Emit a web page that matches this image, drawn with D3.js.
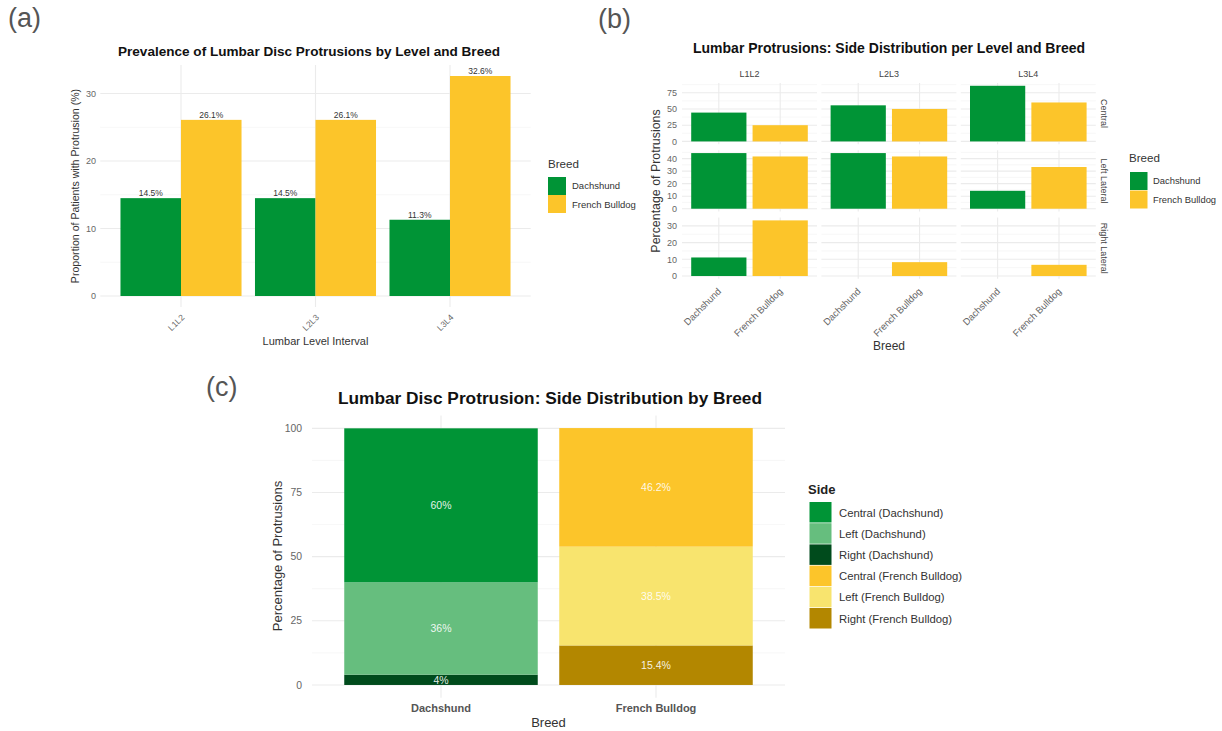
<!DOCTYPE html>
<html>
<head>
<meta charset="utf-8">
<script src="https://cdn.jsdelivr.net/npm/d3@7.9.0/dist/d3.min.js"></script>
<style>
  body { margin: 0; background: #fff; }
  svg { display: block; font-family: "Liberation Sans", Arial, sans-serif; }
</style>
</head>
<body>
<svg id="chart" width="1222" height="731"></svg>
<script>
// ---- data ----
const levels = ["L1L2", "L2L3", "L3L4"];
const breeds = ["Dachshund", "French Bulldog"];

// (a) prevalence per level
const prevalenceDachshund = [14.5, 14.5, 11.3];
const prevalenceFrench = [26.1, 26.1, 32.6];
const prevalenceTicks = [0, 10, 20, 30];

// (b) side distribution per level (percent of protrusions)
const sideRows = ["Central", "Left Lateral", "Right Lateral"];
const centralDachshund = [44.4, 55.6, 85.7];
const centralFrench = [25, 50, 60];
const leftDachshund = [44.4, 44.4, 14.3];
const leftFrench = [41.7, 41.7, 33.3];
const rightDachshund = [11.1, 0, 0];
const rightFrench = [33.3, 8.3, 6.7];
const centralTicks = [0, 25, 50, 75];
const leftTicks = [0, 10, 20, 30, 40];
const rightTicks = [0, 10, 20, 30];

// (c) overall side shares per breed
const sides = ["Central", "Left", "Right"];
const dachshundShares = [60, 36, 4];
const frenchShares = [46.2, 38.5, 15.4];
const shareTicks = [0, 25, 50, 75, 100];

// ---- colours ----
const breedColors = ["#009436", "#FCC52A"];
const sideColorsDachshund = ["#009436", "#66BE7E", "#004B1C"];
const sideColorsFrench = ["#FCC52A", "#F8E46E", "#B38700"];

const svg = d3.select("#chart");
const gridMajor = "#EBEBEB";
const gridMinor = "#F4F4F4";
const tickColor = "#666";

// minor breaks halfway between majors, kept inside the domain
function minorBreaks(ticks, domain) {
  let out = [];
  let step = ticks[1] - ticks[0];
  ticks.forEach((t) => out.push(t + step / 2));
  return out.filter((m) => m > domain[0] && m < domain[1] && !ticks.includes(m));
}

function drawGrid(g, x0, x1, y, ticks, centers) {
  minorBreaks(ticks, y.domain()).forEach((m) => {
    g.append("line").attr("x1", x0).attr("x2", x1)
      .attr("y1", y(m)).attr("y2", y(m))
      .attr("stroke", gridMinor).attr("stroke-width", 0.7);
  });
  ticks.forEach((t) => {
    g.append("line").attr("x1", x0).attr("x2", x1)
      .attr("y1", y(t)).attr("y2", y(t))
      .attr("stroke", gridMajor).attr("stroke-width", 1.1);
  });
  let [yb, yt] = y.range();
  centers.forEach((c) => {
    g.append("line").attr("x1", c).attr("x2", c)
      .attr("y1", yb).attr("y2", yt)
      .attr("stroke", gridMajor).attr("stroke-width", 1.1);
  });
}

function text(g, str, x, y, opts = {}) {
  let t = g.append("text").attr("x", x).attr("y", y).text(str)
    .attr("font-size", opts.size || 10)
    .attr("fill", opts.fill || "#222")
    .attr("text-anchor", opts.anchor || "start");
  if (opts.weight) t.attr("font-weight", opts.weight);
  if (opts.transform) t.attr("transform", opts.transform);
  if (opts.length) t.attr("textLength", opts.length).attr("lengthAdjust", "spacingAndGlyphs");
  return t;
}

// panel letters
text(svg, "(a)", 8, 27, { size: 27, fill: "#555" });
text(svg, "(b)", 598, 28, { size: 27, fill: "#555" });
text(svg, "(c)", 206, 396, { size: 27, fill: "#555" });

// ================= (a) =================
{
  const g = svg.append("g");
  const prevMax = d3.max(prevalenceFrench.concat(prevalenceDachshund));
  const x = d3.scaleBand().domain(levels).range([100.3, 530.7])
    .paddingInner(0.1).paddingOuter(0.15);
  const xIn = d3.scaleBand().domain(breeds).range([0, x.bandwidth()]);
  const y = d3.scaleLinear().domain([-0.05 * prevMax, 1.05 * prevMax]).range([307, 65]);

  drawGrid(g, 100.3, 530.7, y, prevalenceTicks, levels.map((l) => x(l) + x.bandwidth() / 2));

  const rows = levels.map((l, i) => ({ level: l, values: [prevalenceDachshund[i], prevalenceFrench[i]] }));
  rows.forEach((r) => {
    r.values.forEach((v, j) => {
      let bx = x(r.level) + xIn(breeds[j]);
      g.append("rect").attr("x", bx).attr("width", xIn.bandwidth())
        .attr("y", y(v)).attr("height", y(0) - y(v))
        .attr("fill", breedColors[j]);
      text(g, v.toFixed(1) + "%", bx + xIn.bandwidth() / 2, y(v) - 2,
        { size: 8.5, fill: "#333", anchor: "middle" });
    });
  });

  prevalenceTicks.forEach((t) => {
    text(g, t, 96, y(t) + 3, { size: 9, fill: tickColor, anchor: "end" });
  });
  levels.forEach((l) => {
    let cx = x(l) + x.bandwidth() / 2;
    text(g, l, 0, 0, { size: 8.5, fill: tickColor, anchor: "end",
      transform: `translate(${cx + 4},${318}) rotate(-45)` });
  });

  text(g, "Prevalence of Lumbar Disc Protrusions by Level and Breed", 309, 56,
    { size: 13.5, weight: "bold", fill: "#111", anchor: "middle", length: 382 });
  text(g, "Proportion of Patients with Protrusion (%)", 0, 0,
    { size: 10.6, fill: "#333", anchor: "middle", transform: "translate(79,186) rotate(-90)" });
  text(g, "Lumbar Level Interval", 315.5, 345, { size: 11, fill: "#333", anchor: "middle" });

  // legend
  text(g, "Breed", 548, 168, { size: 11.6, fill: "#333" });
  breeds.forEach((b, i) => {
    g.append("rect").attr("x", 548).attr("y", 177 + i * 18).attr("width", 18).attr("height", 18)
      .attr("fill", breedColors[i]);
    text(g, b, 572, 189 + i * 18.5, { size: 9.5, fill: "#333" });
  });
}

// ================= (b) =================
{
  const g = svg.append("g");
  const colX = [682, 821.4, 960.8];
  const colW = 135;
  const rowTop = [83, 150.3, 217.6];
  const rowH = 61.2;
  const rowData = [
    [centralDachshund, centralFrench],
    [leftDachshund, leftFrench],
    [rightDachshund, rightFrench],
  ];
  const rowTicks = [centralTicks, leftTicks, rightTicks];

  rowData.forEach((pair, r) => {
    let rMax = d3.max(pair[0].concat(pair[1]));
    let y = d3.scaleLinear().domain([-0.05 * rMax, 1.05 * rMax]).range([rowTop[r] + rowH, rowTop[r]]);

    levels.forEach((lvl, c) => {
      let x = d3.scaleBand().domain(breeds).range([colX[c], colX[c] + colW])
        .paddingInner(0.1).paddingOuter(0.15);
      drawGrid(g, colX[c], colX[c] + colW, y, rowTicks[r], breeds.map((b) => x(b) + x.bandwidth() / 2));
      breeds.forEach((b, j) => {
        let v = pair[j][c];
        if (v <= 0) return;
        g.append("rect").attr("x", x(b)).attr("width", x.bandwidth())
          .attr("y", y(v)).attr("height", y(0) - y(v))
          .attr("fill", breedColors[j]);
      });
      // x tick labels under the bottom row
      if (r === rowData.length - 1) {
        breeds.forEach((b) => {
          let cx = x(b) + x.bandwidth() / 2;
          text(g, b, 0, 0, { size: 9.5, fill: tickColor, anchor: "end",
            transform: `translate(${cx + 3},${292}) rotate(-45)` });
        });
      }
    });

    rowTicks[r].forEach((t) => {
      text(g, t, 677, y(t) + 3.2, { size: 9, fill: tickColor, anchor: "end" });
    });
    // right strip label
    text(g, sideRows[r], 0, 0, { size: 9, fill: "#444", anchor: "middle",
      transform: `translate(${1101},${rowTop[r] + rowH / 2}) rotate(90)` });
  });

  levels.forEach((lvl, c) => {
    text(g, lvl, colX[c] + colW / 2, 77, { size: 9, fill: "#444", anchor: "middle" });
  });

  text(g, "Lumbar Protrusions: Side Distribution per Level and Breed", 889, 53,
    { size: 14, weight: "bold", fill: "#111", anchor: "middle", length: 392 });
  text(g, "Percentage of Protrusions", 0, 0,
    { size: 12.4, fill: "#333", anchor: "middle", transform: "translate(660,181) rotate(-90)" });
  text(g, "Breed", 889, 350, { size: 12, fill: "#333", anchor: "middle" });

  // legend
  text(g, "Breed", 1129, 162, { size: 11.6, fill: "#333" });
  breeds.forEach((b, i) => {
    g.append("rect").attr("x", 1130).attr("y", 172 + i * 18.5).attr("width", 17.5).attr("height", 18)
      .attr("fill", breedColors[i]);
    text(g, b, 1153, 184 + i * 19, { size: 9.4, fill: "#333" });
  });
}

// ================= (c) =================
{
  const g = svg.append("g");
  const x = d3.scaleBand().domain(breeds).range([312, 785])
    .paddingInner(0.1).paddingOuter(0.15);
  const y = d3.scaleLinear().domain([-5, 105]).range([697.8, 415.5]);

  drawGrid(g, 312, 785, y, shareTicks, breeds.map((b) => x(b) + x.bandwidth() / 2));

  const table = [dachshundShares, frenchShares].map((vals, i) => {
    let row = { breed: breeds[i] };
    sides.forEach((s, k) => (row[s] = vals[k]));
    return row;
  });
  const palette = [sideColorsDachshund, sideColorsFrench];
  // stack bottom-up: Right, Left, Central
  const stack = d3.stack().keys(["Right", "Left", "Central"]);
  stack(table).forEach((layer) => {
    let k = sides.indexOf(layer.key);
    layer.forEach((seg, i) => {
      let bx = x(table[i].breed);
      g.append("rect").attr("x", bx).attr("width", x.bandwidth())
        .attr("y", y(seg[1])).attr("height", y(seg[0]) - y(seg[1]))
        .attr("fill", palette[i][k]);
      text(g, seg.data[layer.key] + "%", bx + x.bandwidth() / 2, y((seg[0] + seg[1]) / 2) + 3.8,
        { size: 10.5, fill: "rgba(255,255,255,0.9)", anchor: "middle" });
    });
  });

  shareTicks.forEach((t) => {
    text(g, t, 302, y(t) + 3.6, { size: 10.4, fill: tickColor, anchor: "end" });
  });
  breeds.forEach((b) => {
    text(g, b, x(b) + x.bandwidth() / 2, 712, { size: 11, weight: "bold", fill: "#555", anchor: "middle" });
  });

  text(g, "Lumbar Disc Protrusion: Side Distribution by Breed", 550, 404,
    { size: 16, weight: "bold", fill: "#111", anchor: "middle", length: 424 });
  text(g, "Percentage of Protrusions", 0, 0,
    { size: 13, fill: "#333", anchor: "middle", transform: "translate(282,556) rotate(-90)" });
  text(g, "Breed", 548.5, 727, { size: 13, fill: "#333", anchor: "middle" });

  // legend
  text(g, "Side", 808, 494, { size: 13, weight: "bold", fill: "#222" });
  let legendItems = [];
  breeds.forEach((b, i) => {
    sides.forEach((s, k) => legendItems.push({ label: `${s} (${b})`, color: palette[i][k] }));
  });
  legendItems.forEach((d, i) => {
    g.append("rect").attr("x", 809.5).attr("y", 502 + i * 21.2).attr("width", 22).attr("height", 20.5)
      .attr("fill", d.color);
    text(g, d.label, 839, 516.5 + i * 21.2, { size: 11.3, fill: "#333" });
  });
}
</script>
</body>
</html>
